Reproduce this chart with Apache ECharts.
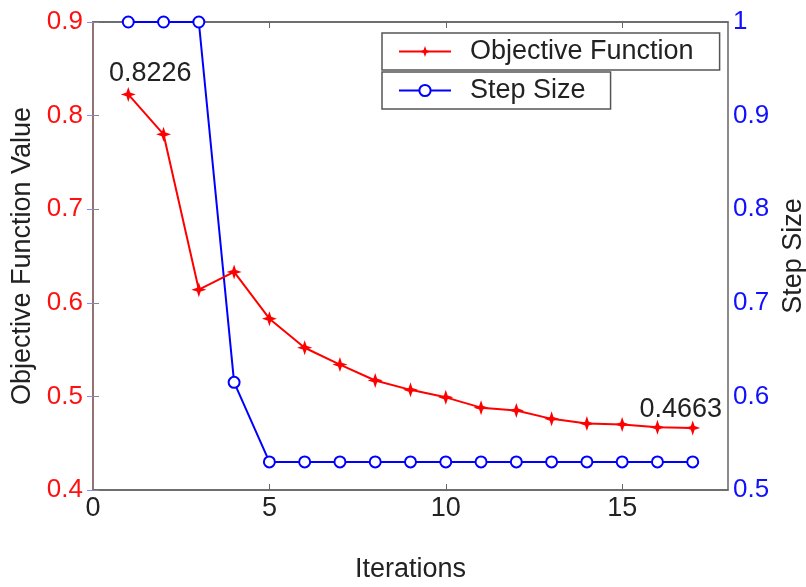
<!DOCTYPE html>
<html>
<head>
<meta charset="utf-8">
<script src="https://cdn.jsdelivr.net/npm/echarts@6/dist/echarts.min.js"></script>
<style>html,body{margin:0;padding:0;background:#fff}#c{width:806px;height:587px}</style>
</head>
<body>
<div id="c"></div>
<script>
const iterations = [1,2,3,4,5,6,7,8,9,10,11,12,13,14,15,16,17];
const objective = [0.8226,0.780,0.614,0.633,0.583,0.552,0.534,0.517,0.507,0.499,0.488,0.485,0.476,0.471,0.470,0.467,0.4663];
const stepSize = [1,1,1,0.615,0.53,0.53,0.53,0.53,0.53,0.53,0.53,0.53,0.53,0.53,0.53,0.53,0.53];
const xTicks = [0,5,10,15];
const leftTicks = [0.4,0.5,0.6,0.7,0.8,0.9];
const rightTicks = [0.5,0.6,0.7,0.8,0.9,1];
const annotated = {0: '0.8226', 16: '0.4663'};

const FONT = 'Liberation Sans, Arial, sans-serif';
const star = 'path://M0,-10 L2.5,-2.5 L10,0 L2.5,2.5 L0,10 L-2.5,2.5 L-10,0 L-2.5,-2.5Z';

const chart = echarts.init(document.getElementById('c'), null, {renderer: 'canvas'});
const objData = iterations.map((x, i) => {
  const item = {value: [x, objective[i]]};
  if (annotated[i] !== undefined) {
    item.label = {show: true, formatter: annotated[i], position: 'top', distance: 0,
      offset: i === 0 ? [22, 0] : [-12, 3],
      color: '#222', fontSize: 27, fontFamily: FONT};
  }
  return item;
});
chart.setOption({
  animation: false,
  backgroundColor: '#fff',
  grid: {left: 93, right: 78, top: 22, bottom: 97, containLabel: false, outerBoundsMode: 'none',
         show: true, borderColor: '#666', borderWidth: 1.5},
  legend: [
    {data: ['Objective Function'], left: 382, top: 33, orient: 'vertical',
     backgroundColor: '#fff', borderColor: '#555', borderWidth: 1.5, borderRadius: 0,
     padding: [5, 26, 5, 16], itemWidth: 52, itemHeight: 14,
     textStyle: {fontSize: 27, fontFamily: FONT, color: '#222', padding: [0,0,0,14]}},
    {data: ['Step Size'], left: 382, top: 72, orient: 'vertical',
     backgroundColor: '#fff', borderColor: '#555', borderWidth: 1.5, borderRadius: 0,
     padding: [5, 25, 5, 16], itemWidth: 52, itemHeight: 14,
     textStyle: {fontSize: 27, fontFamily: FONT, color: '#222', padding: [0,0,0,14]}}
  ],
  xAxis: [
    {type: 'value', min: 0, max: 18, interval: 5, position: 'bottom',
     name: 'Iterations', nameLocation: 'middle', nameGap: 66,
     nameTextStyle: {fontSize: 27, fontFamily: FONT, color: '#222'},
     axisLine: {show: true, lineStyle: {color: '#666', width: 1.5}},
     axisTick: {show: true, inside: true, length: 6, lineStyle: {color: '#666'}, customValues: [5,10,15]},
     axisLabel: {fontSize: 27, fontFamily: FONT, color: '#222', margin: 5, customValues: xTicks},
     splitLine: {show: false}},
    {type: 'value', min: 0, max: 18, interval: 5, position: 'top',
     axisLine: {show: true, lineStyle: {color: '#666', width: 1.5}},
     axisTick: {show: true, inside: true, length: 6, lineStyle: {color: '#666'}, customValues: [5,10,15]},
     axisLabel: {show: false}, splitLine: {show: false}}
  ],
  yAxis: [
    {type: 'value', min: 0.4, max: 0.9, interval: 0.1, position: 'left',
     name: 'Objective Function Value', nameLocation: 'middle', nameGap: 54, nameRotate: 90,
     nameTextStyle: {fontSize: 27, fontFamily: FONT, color: '#222'},
     axisLine: {show: true, lineStyle: {color: '#ff5a5a', width: 1.5}},
     axisTick: {show: true, inside: true, length: 6, lineStyle: {color: '#888'}},
     axisLabel: {fontSize: 26, fontFamily: FONT, color: '#ff1010', margin: 10,
       customValues: leftTicks, formatter: v => v.toFixed(1)},
     splitLine: {show: false}},
    {type: 'value', min: 0.5, max: 1, interval: 0.1, position: 'right',
     name: 'Step Size', nameLocation: 'middle', nameGap: 49, nameRotate: 90,
     nameTextStyle: {fontSize: 27, fontFamily: FONT, color: '#222'},
     axisLine: {show: true, lineStyle: {color: '#777', width: 1.5}},
     axisTick: {show: true, inside: true, length: 6, lineStyle: {color: '#88f'}},
     axisLabel: {fontSize: 26, fontFamily: FONT, color: '#1010ff', margin: 5,
       customValues: rightTicks, formatter: v => (Math.abs(v - 1) < 1e-9 ? '1' : v.toFixed(1))},
     splitLine: {show: false}}
  ],
  series: [
    {name: 'Objective Function', type: 'line', xAxisIndex: 0, yAxisIndex: 0,
     data: objData, symbol: star, symbolSize: 15,
     lineStyle: {color: '#ff0000', width: 2}, itemStyle: {color: '#ff0000'}, z: 3},
    {name: 'Step Size', type: 'line', xAxisIndex: 0, yAxisIndex: 1,
     data: iterations.map((x, i) => [x, stepSize[i]]), symbol: 'emptyCircle', symbolSize: 11,
     lineStyle: {color: '#0000ff', width: 2}, itemStyle: {color: '#0000ff', borderWidth: 2}, z: 2}
  ]
});
</script>
</body>
</html>
